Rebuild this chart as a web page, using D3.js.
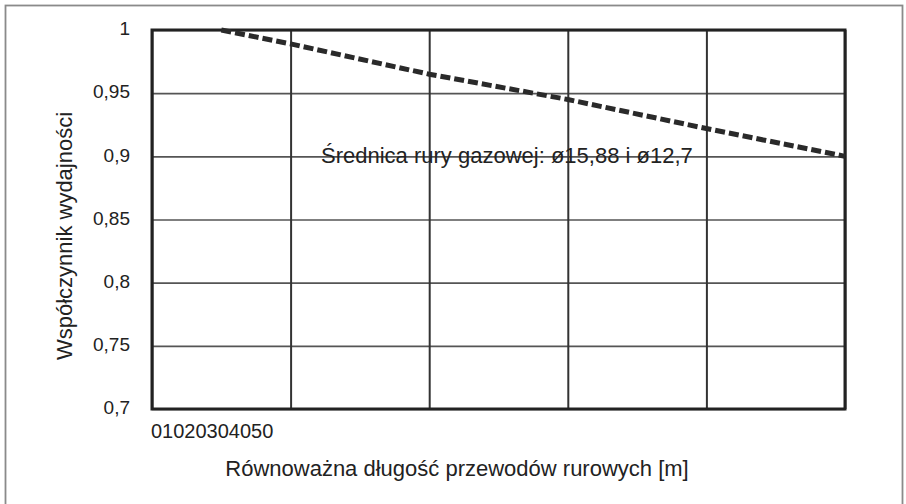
<!DOCTYPE html>
<html>
<head>
<meta charset="utf-8">
<script src="https://cdn.jsdelivr.net/npm/d3@7"></script>
<style>
  body { margin: 0; background: #fff; overflow: hidden; }
  svg { display: block; font-family: "Liberation Sans", Arial, sans-serif; }
  .tick text { fill: #222; }
</style>
</head>
<body>
<svg></svg>
<script>
// data
const lengths = [5, 10, 20, 30, 40, 50];
const factors = [1.0, 0.989, 0.965, 0.945, 0.922, 0.9];
const xTicks = [0, 10, 20, 30, 40, 50];
const yTicks = [0.7, 0.75, 0.8, 0.85, 0.9, 0.95, 1];
const note = "Średnica rury gazowej: ø15,88 i ø12,7";

const width = 906;
const height = 504;
const margin = { top: 30, right: 61, bottom: 95, left: 152 };
const innerWidth = width - margin.left - margin.right;
const innerHeight = height - margin.top - margin.bottom;

const svg = d3.select("svg").attr("width", width).attr("height", height);

// outer frame (its bottom edge runs past the picture)
svg.append("rect")
  .attr("x", 5.5).attr("y", 5.5)
  .attr("width", 897).attr("height", 510)
  .attr("fill", "none")
  .attr("stroke", "#8a8a8a")
  .attr("stroke-width", 1.8);

const pl = d3.formatLocale({ decimal: ",", thousands: " ", grouping: [3], currency: ["", " zł"] });
const yFmt = pl.format(".2~f");

const x = d3.scaleLinear().domain([0, 50]).range([0, innerWidth]);
const y = d3.scaleLinear().domain([0.7, 1]).range([innerHeight, 0]);

const g = svg.append("g")
  .attr("transform", `translate(${margin.left},${margin.top})`);

// horizontal grid + y labels
const yAxisG = g.append("g")
  .call(d3.axisLeft(y).tickValues(yTicks).tickFormat(yFmt).tickSize(-innerWidth).tickPadding(22));
yAxisG.select(".domain").remove();
yAxisG.selectAll(".tick line").attr("stroke", "#555").attr("stroke-width", 1.6);
yAxisG.selectAll(".tick text").attr("font-size", 19).attr("dy", "0.25em");

// vertical grid
const xGridG = g.append("g")
  .attr("transform", `translate(0,${innerHeight})`)
  .call(d3.axisBottom(x).tickValues(xTicks).tickSize(-innerHeight).tickFormat(""));
xGridG.select(".domain").remove();
xGridG.selectAll(".tick line").attr("stroke", "#333").attr("stroke-width", 2);

// plot border
g.append("rect")
  .attr("width", innerWidth).attr("height", innerHeight)
  .attr("fill", "none")
  .attr("stroke", "#222")
  .attr("stroke-width", 3);

// x tick labels, all packed at the left like in the original
g.append("text")
  .attr("x", -1)
  .attr("y", innerHeight + 29)
  .attr("font-size", 20)
  .attr("fill", "#222")
  .text(xTicks.join(""));

// the curve
const line = d3.line()
  .x((d, i) => x(lengths[i]))
  .y(d => y(d));

g.append("path")
  .datum(factors)
  .attr("d", line)
  .attr("fill", "none")
  .attr("stroke", "#2a2a2a")
  .attr("stroke-width", 5)
  .attr("stroke-dasharray", "10,4");

// note
g.append("text")
  .attr("x", 169)
  .attr("y", y(0.9) + 7)
  .attr("font-size", 22)
  .attr("fill", "#222")
  .text(note);

// axis titles
svg.append("text")
  .attr("x", 457)
  .attr("y", 476)
  .attr("text-anchor", "middle")
  .attr("font-size", 22)
  .attr("fill", "#222")
  .text("Równoważna długość przewodów rurowych [m]");

svg.append("text")
  .attr("transform", `translate(72,236) rotate(-90)`)
  .attr("text-anchor", "middle")
  .attr("font-size", 22)
  .attr("fill", "#222")
  .text("Współczynnik wydajności");
</script>
</body>
</html>
